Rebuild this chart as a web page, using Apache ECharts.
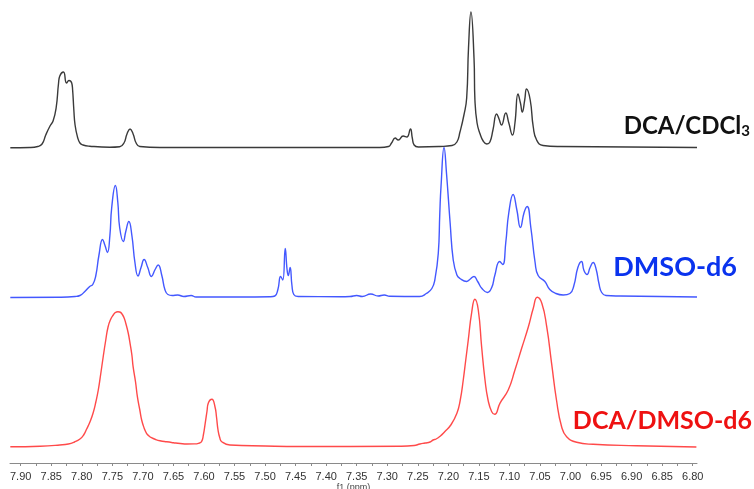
<!DOCTYPE html>
<html>
<head>
<meta charset="utf-8">
<title>1H NMR spectra</title>
<script src="https://cdn.jsdelivr.net/npm/echarts@6/dist/echarts.min.js"></script>
<style>
  html, body { margin: 0; padding: 0; background: #ffffff; }
  #chart { width: 754px; height: 489px; }
</style>
</head>
<body>
<div id="chart"></div>
<script>
// Chemical shift tick labels (ppm)
const ppmTickLabels = ['7.90','7.85','7.80','7.75','7.70','7.65','7.60','7.55','7.50','7.45','7.40',
  '7.35','7.30','7.25','7.20','7.15','7.10','7.05','7.00','6.95','6.90','6.85','6.80'];

// Spectrum of DCA in CDCl3: [ppm, intensity]
const spectrumCDCl3 = [
  [7.917,0.3],[7.885,0.5],[7.872,1.5],[7.865,4],[7.859,13],[7.852,22],[7.847,27],[7.842,40],
  [7.838,65],[7.836,72],[7.830,76],[7.825,65],[7.821,67.5],[7.8165,65],[7.815,58],[7.813,38],
  [7.811,23],[7.807,11],[7.803,5],[7.798,3],[7.787,1.8],[7.754,0.8],[7.738,1.3],[7.731,5],
  [7.726,14],[7.721,19],[7.716,14],[7.711,5],[7.705,1.5],[7.672,0.5],[7.312,0.5],[7.298,1.5],
  [7.293,5],[7.287,10],[7.282,8],[7.274,12],[7.268,11],[7.262,19],[7.259,10],[7.256,3],
  [7.249,1],[7.214,1.5],[7.194,2.5],[7.186,6],[7.181,16],[7.1745,33],[7.170,50],[7.167,100],
  [7.163,136],[7.158,90],[7.1565,48],[7.153,25],[7.148,14],[7.143,7],[7.137,4],[7.132,6],
  [7.127,18],[7.121,34],[7.117,29],[7.113,23],[7.106,35],[7.101,25],[7.095,13],[7.091,25],
  [7.086,54],[7.082,45],[7.079,36],[7.075,48],[7.072,59],[7.066,48],[7.061,21],[7.0555,8],
  [7.045,2.5],[7.017,1.5],[6.793,0.5]
];

// Spectrum in DMSO-d6: [ppm, intensity]
const spectrumDMSO = [
  [7.917,0],[7.836,0.3],[7.811,1],[7.803,2],[7.795,6],[7.787,11],[7.782,13],[7.777,22],
  [7.772,42],[7.766,58],[7.762,52],[7.758,45],[7.754,62],[7.751,90],[7.745,112],[7.741,95],
  [7.738,70],[7.732,56],[7.728,66],[7.723,76],[7.718,62],[7.713,35],[7.708,21.5],[7.703,30],
  [7.698,38],[7.692,30],[7.686,21],[7.680,28],[7.675,32.5],[7.669,22],[7.664,8],[7.659,3],
  [7.652,2],[7.643,2.5],[7.633,1],[7.621,2],[7.613,0.5],[7.541,0.5],[7.492,0.8],[7.484,1.5],
  [7.479,8],[7.4745,21],[7.471,17.5],[7.467,49],[7.464,28],[7.462,22],[7.459,30],[7.456,12],
  [7.453,3],[7.446,1],[7.377,0.8],[7.361,1],[7.350,2],[7.341,1],[7.327,3.5],[7.315,1.5],
  [7.305,2.5],[7.296,1.2],[7.247,1],[7.236,4],[7.227,9],[7.222,18],[7.2165,44],[7.214,84],
  [7.212,111],[7.207,150],[7.203,124],[7.197,74],[7.192,37.5],[7.186,22.5],[7.181,19],
  [7.170,16],[7.165,18],[7.158,21],[7.152,16],[7.145,9],[7.136,5],[7.129,10],[7.124,22],
  [7.116,36],[7.111,33],[7.106,55],[7.101,85],[7.094,103],[7.088,88],[7.082,70],[7.076,85],
  [7.071,91],[7.065,70],[7.058,35],[7.053,22],[7.042,16],[7.034,8],[7.024,4],[7.012,2.5],
  [7.001,4],[6.9945,12],[6.988,30],[6.982,36],[6.978,27],[6.973,23],[6.968,30],[6.963,35],
  [6.958,28],[6.9535,14],[6.949,5],[6.942,2],[6.919,1.5],[6.854,1],[6.793,0.5]
];

// Spectrum of DCA in DMSO-d6: [ppm, intensity]
const spectrumDCADMSO = [
  [7.917,0.3],[7.868,0.8],[7.836,2],[7.822,3],[7.812,5],[7.803,8],[7.797,12],[7.792,18],
  [7.786,26],[7.781,35],[7.777,45],[7.773,57],[7.769,73],[7.765,90],[7.761,106],[7.757,120],
  [7.7525,128],[7.7485,132],[7.745,134.5],[7.741,135.3],[7.738,135],[7.735,133.7],[7.731,129.5],
  [7.728,123.7],[7.724,114],[7.721,103.7],[7.718,92],[7.716,80.3],[7.712,65],[7.709,50.3],
  [7.705,37],[7.702,27],[7.698,19],[7.694,13.7],[7.690,11],[7.686,9.3],[7.679,7.5],[7.672,6.3],
  [7.661,5.2],[7.650,4.3],[7.639,3.5],[7.628,3],[7.616,3.1],[7.609,3.7],[7.604,5.3],
  [7.601,12],[7.598,23.7],[7.595,36],[7.593,43.7],[7.587,47.7],[7.582,40.3],[7.5795,30],
  [7.577,17],[7.574,9],[7.571,5.3],[7.5575,2],[7.5,1],[7.443,0.5],[7.279,0.8],[7.256,1.5],
  [7.2465,3],[7.238,4],[7.230,5],[7.225,7],[7.220,8],[7.213,11],[7.206,15.3],[7.196,22],
  [7.186,33.7],[7.1805,47],[7.1756,67],[7.1715,87],[7.1674,107],[7.162,133.7],[7.1565,147.7],
  [7.151,137],[7.1455,100],[7.140,67],[7.135,47],[7.129,35.3],[7.124,32.7],[7.1156,43.7],
  [7.102,57],[7.091,77],[7.080,98.7],[7.069,120.3],[7.061,138.7],[7.0545,149.7],[7.047,143.7],
  [7.039,120.3],[7.031,83.7],[7.023,47],[7.0146,20.3],[7.0064,10.3],[6.990,4.7],[6.963,2.7],
  [6.892,1.3],[6.794,0]
];

const sampleLabels = ['DCA/CDCl', '3', 'DMSO-d6', 'DCA/DMSO-d6'];

const ppmMin = 6.793;
const ppmMax = 7.9175;

const tickValues = ppmTickLabels.map(Number);
const tickMarks = [];
tickValues.forEach((v, i) => {
  tickMarks.push(v);
  if (i < tickValues.length - 1) tickMarks.push(+(v - 0.025).toFixed(3));
});

const chart = echarts.init(document.getElementById('chart'), null, { renderer: 'canvas' });

function hiddenX(gridIndex) {
  return {
    type: 'value', gridIndex, inverse: true, min: ppmMin, max: ppmMax,
    show: false, splitLine: { show: false }
  };
}
function hiddenY(gridIndex, min, max) {
  return { type: 'value', gridIndex, min, max, show: false, splitLine: { show: false } };
}
function trace(data, idx, color) {
  return {
    type: 'line', xAxisIndex: idx, yAxisIndex: idx, data,
    showSymbol: false, smooth: 0.5, clip: false,
    lineStyle: { color, width: 1.4 }, silent: true, animation: false
  };
}
// Panels keep their exact placement; labels are allowed to reach the canvas edge
function panel(top, height) {
  return { left: 10, right: 57, top, height, outerBoundsMode: 'none', containLabel: false };
}

chart.setOption({
  backgroundColor: '#ffffff',
  animation: false,
  grid: [
    panel(0, 148),
    panel(140, 157.5),
    // the lowest panel reaches down to the ppm axis, 16 px under its baseline
    panel(290, 173)
  ],
  xAxis: [
    hiddenX(0),
    hiddenX(1),
    {
      type: 'value', gridIndex: 2, inverse: true, min: ppmMin, max: ppmMax,
      name: 'f1 (ppm)', nameLocation: 'middle', nameGap: 19,
      nameTextStyle: { fontFamily: 'Liberation Sans', fontSize: 9, color: '#444' },
      axisLine: { show: true, onZero: false, lineStyle: { color: '#8a8a8a', width: 1 } },
      axisTick: { show: true, length: 3, lineStyle: { color: '#8a8a8a' }, customValues: tickMarks },
      axisLabel: {
        customValues: tickValues, margin: 8,
        fontFamily: 'Liberation Sans', fontSize: 11, color: '#333',
        formatter: v => v.toFixed(2)
      },
      splitLine: { show: false }
    }
  ],
  yAxis: [hiddenY(0, 0, 148), hiddenY(1, 0, 157.5), hiddenY(2, -16, 157)],
  series: [
    trace(spectrumCDCl3, 0, '#3a3a3a'),
    trace(spectrumDMSO, 1, '#4358ff'),
    trace(spectrumDCADMSO, 2, '#ff4a4a')
  ],
  graphic: [
    {
      type: 'text', right: 4, top: 114,
      style: {
        text: '{m|' + sampleLabels[0] + '}{s|' + sampleLabels[1] + '}',
        rich: {
          m: { fontFamily: 'Lato', fontWeight: 'bold', fontSize: 24, fill: '#111111' },
          s: { fontFamily: 'Lato', fontWeight: 'bold', fontSize: 15, fill: '#111111', padding: [10, 0, 0, 0] }
        }
      }
    },
    {
      type: 'text', right: 17, top: 254,
      style: { text: sampleLabels[2], fontFamily: 'Lato', fontWeight: 'bold', fontSize: 27, fill: '#0a33ee' }
    },
    {
      type: 'text', right: 2, top: 408,
      style: { text: sampleLabels[3], fontFamily: 'Lato', fontWeight: 'bold', fontSize: 25, fill: '#ee1111' }
    }
  ]
});
</script>
</body>
</html>
